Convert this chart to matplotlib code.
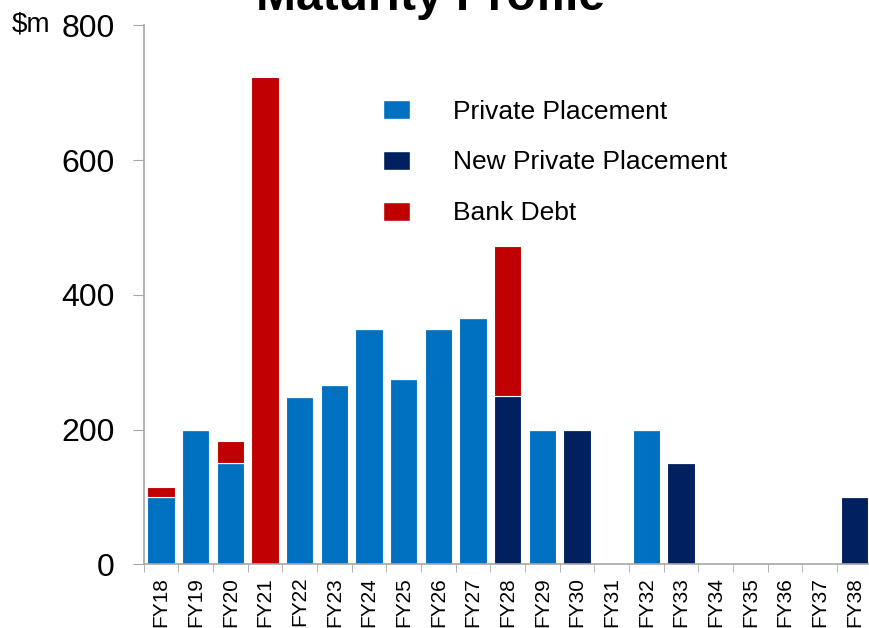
import numpy as np
import matplotlib
matplotlib.use('Agg')
import matplotlib.pyplot as plt
from matplotlib.patches import Patch

plt.rcParams['font.family'] = ['Liberation Sans', 'DejaVu Sans']

# Debt maturities by financial year ($m)
years = ['FY18', 'FY19', 'FY20', 'FY21', 'FY22', 'FY23', 'FY24', 'FY25', 'FY26',
         'FY27', 'FY28', 'FY29', 'FY30', 'FY31', 'FY32', 'FY33', 'FY34', 'FY35',
         'FY36', 'FY37', 'FY38']
private_placement = [100, 200, 150, 0, 248, 266, 350, 275, 350, 366, 0,
                     200, 0, 0, 200, 0, 0, 0, 0, 0, 0]
new_private_placement = [0, 0, 0, 0, 0, 0, 0, 0, 0, 0, 250,
                         0, 200, 0, 0, 150, 0, 0, 0, 0, 100]
bank_debt = [15, 0, 33, 723, 0, 0, 0, 0, 0, 0, 223,
             0, 0, 0, 0, 0, 0, 0, 0, 0, 0]

c_pp = '#0070C0'
c_npp = '#002060'
c_bank = '#C00000'
grey = '#A6A6A6'

fig = plt.figure(figsize=(8.69, 6.28), dpi=100)
ax = fig.add_axes([0.1654, 0.1014, 0.8377, 0.858])

x = np.arange(len(years))
pp = np.array(private_placement)
npp = np.array(new_private_placement)
bank = np.array(bank_debt)
w = 0.79

ax.bar(x, pp, w, color=c_pp, edgecolor='white', linewidth=0.8)
ax.bar(x, npp, w, bottom=pp, color=c_npp, edgecolor='white', linewidth=0.8)
ax.bar(x, bank, w, bottom=pp + npp, color=c_bank, edgecolor='white', linewidth=0.8)

ax.set_xlim(-0.5, len(years) - 0.5)
ax.set_ylim(0, 800)
ax.set_yticks([0, 200, 400, 600, 800])
ax.tick_params(axis='y', labelsize=23, length=8, color=grey, pad=13)

# labels at bar centres, tick marks on category boundaries
ax.set_xticks(x)
ax.set_xticklabels(years, rotation=90, fontsize=15)
ax.tick_params(axis='x', which='major', length=0, pad=9)
ax.set_xticks(np.arange(len(years) + 1) - 0.5, minor=True)
ax.tick_params(axis='x', which='minor', length=6, color=grey)

for side in ['top', 'right']:
    ax.spines[side].set_visible(False)
for side in ['left', 'bottom']:
    ax.spines[side].set_color(grey)
    ax.spines[side].set_linewidth(1.2)

handles = [Patch(facecolor=c_pp, edgecolor='white'),
           Patch(facecolor=c_npp, edgecolor='white'),
           Patch(facecolor=c_bank, edgecolor='white')]
ax.legend(handles, ['Private Placement', 'New Private Placement', 'Bank Debt'],
          loc='upper left', bbox_to_anchor=(372 / 869, 1 - 89 / 628),
          bbox_transform=fig.transFigure, borderaxespad=0, frameon=False,
          fontsize=19, handlelength=1.05, handleheight=0.75,
          handletextpad=1.62, labelspacing=1.02, borderpad=0.4)

fig.text(430 / 869, 1 - 10 / 628, 'Maturity Profile', ha='center', va='baseline',
         fontsize=34.5, fontweight='bold')
fig.text(12 / 869, 1 - 31.7 / 628, '$m', ha='left', va='baseline', fontsize=20)

fig.savefig('out.png', dpi=100)
